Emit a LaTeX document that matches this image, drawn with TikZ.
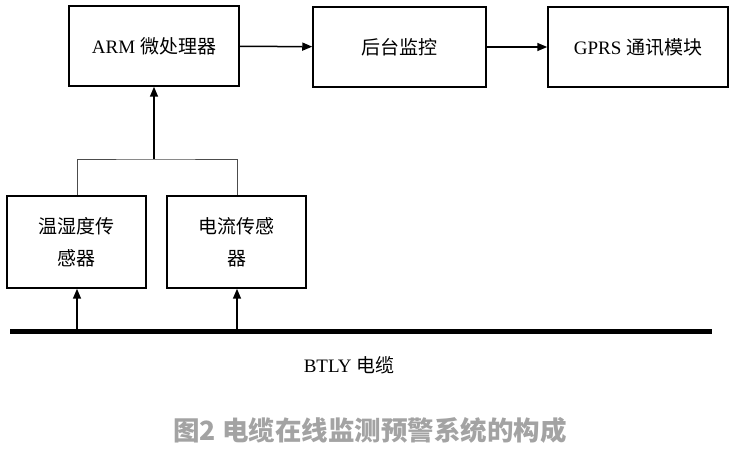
\documentclass[tikz,border=0pt]{standalone}
\usepackage{fontspec}
\setmainfont{Liberation Serif}
\newfontfamily\cjk{Noto Sans CJK SC}
\usetikzlibrary{arrows.meta}
\newcommand{\zh}[1]{{\cjk #1}}
\tikzset{
  blockbox/.style={draw, line width=1.5pt, align=center, inner sep=0pt,
    font=\fontsize{19}{32}\selectfont},
  feed/.style={line width=1.5pt, -{Triangle[length=10pt,width=8pt]}},
}
\begin{document}
\begin{tikzpicture}[x=1pt, y=-1pt]
  \useasboundingbox (0,0) rectangle (732,454);
  % upper row
  \node[blockbox, minimum width=170pt, minimum height=80pt] (arm) at (154,46) {ARM \zh{微处理器}};
  \node[blockbox, minimum width=173pt, minimum height=80pt] (host) at (399.5,47) {\zh{后台监控}};
  \node[blockbox, minimum width=180pt, minimum height=80pt] (gprs) at (638,47) {GPRS \zh{通讯模块}};
  % sensors
  \node[blockbox, minimum width=139pt, minimum height=92pt] (th) at (76.5,242) {\zh{温湿度传}\\\zh{感器}};
  \node[blockbox, minimum width=139pt, minimum height=92pt] (cur) at (236.5,242) {\zh{电流传感}\\\zh{器}};
  % cable
  \coordinate (busL) at (10,332);
  \coordinate (busR) at (712,332);
  \coordinate (b1) at (77,332);
  \coordinate (b2) at (237,332);
  \coordinate (join) at (154,159);
  \draw[line width=5pt] (busL) -- (busR);
  \node[font=\fontsize{19}{22}\selectfont] (cable) at (349,365) {BTLY \zh{电缆}};

  \draw[feed] (arm) -- (host);
  \draw[feed] (host) -- (gprs);
  \draw[feed] (join) -- (arm);
  \draw[black!70, line width=0.8pt] (th.north -| b1) |- (join) -| (cur.north -| b2);
  \draw[feed] (b1) -- (th.south -| b1);
  \draw[feed] (b2) -- (cur.south -| b2);

  \node[font=\cjk\bfseries\fontsize{26.5}{30}\selectfont, text=black!36] (caption) at (370,430) {图2 电缆在线监测预警系统的构成};
\end{tikzpicture}
\end{document}
